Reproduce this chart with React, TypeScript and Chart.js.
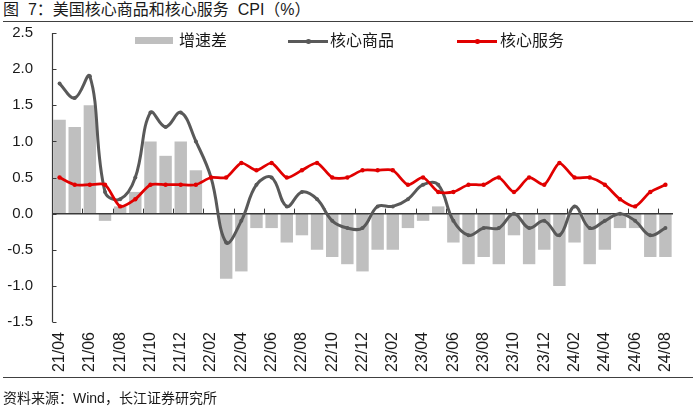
import React, { useEffect, useRef } from "react";
import { Chart, registerables } from "chart.js";

Chart.register(...registerables);

const months: string[] = [
  "21/04", "21/05", "21/06", "21/07", "21/08", "21/09", "21/10", "21/11", "21/12",
  "22/01", "22/02", "22/03", "22/04", "22/05", "22/06", "22/07", "22/08", "22/09", "22/10", "22/11", "22/12",
  "23/01", "23/02", "23/03", "23/04", "23/05", "23/06", "23/07", "23/08", "23/09", "23/10", "23/11", "23/12",
  "24/01", "24/02", "24/03", "24/04", "24/05", "24/06", "24/07", "24/08",
];

const spread: number[] = [
  1.3, 1.2, 1.5, -0.1, 0.1, 0.3, 1.0, 0.8, 1.0,
  0.6, 0.0, -0.9, -0.8, -0.2, -0.2, -0.4, -0.3, -0.5, -0.6, -0.7, -0.8,
  -0.5, -0.5, -0.2, -0.1, 0.1, -0.4, -0.7, -0.6, -0.7, -0.3, -0.7, -0.5,
  -1.0, -0.4, -0.7, -0.5, -0.2, -0.2, -0.6, -0.6,
];

const coreGoods: number[] = [
  1.8, 1.6, 1.9, 0.3, 0.2, 0.5, 1.4, 1.2, 1.4,
  1.0, 0.5, -0.4, -0.1, 0.4, 0.5, 0.1, 0.3, 0.2, -0.1, -0.2, -0.2,
  0.1, 0.1, 0.2, 0.4, 0.4, -0.1, -0.3, -0.2, -0.2, 0.0, -0.2, -0.1,
  -0.3, 0.1, -0.2, -0.1, 0.0, -0.1, -0.3, -0.2,
];

const coreServices: number[] = [
  0.5, 0.4, 0.4, 0.4, 0.1, 0.2, 0.4, 0.4, 0.4,
  0.4, 0.5, 0.5, 0.7, 0.6, 0.7, 0.5, 0.6, 0.7, 0.5, 0.5, 0.6,
  0.6, 0.6, 0.4, 0.5, 0.3, 0.3, 0.4, 0.4, 0.5, 0.3, 0.5, 0.4,
  0.7, 0.5, 0.5, 0.4, 0.2, 0.1, 0.3, 0.4,
];

const seriesNames = ["增速差", "核心商品", "核心服务"];
const yMin = -1.5;
const yMax = 2.5;
const yStep = 0.5;

const BAR_COLOR = "#BFBFBF";
const GOODS_COLOR = "#595959";
const SERVICE_COLOR = "#E10000";
const AXIS_COLOR = "#3a3a3a";
const FONT = '"Liberation Sans", Arial, "Noto Sans CJK SC", sans-serif';

const axesPlugin = {
  id: "customAxes",
  afterDatasetDraw(chart: any, args: any) {
    if (args.index !== 0) return;
    const { ctx, chartArea, scales } = chart;
    const x = scales.x;
    const y = scales.y;
    const y0 = y.getPixelForValue(0);
    ctx.save();
    ctx.strokeStyle = AXIS_COLOR;
    ctx.lineWidth = 1.5;
    ctx.beginPath();
    ctx.moveTo(chartArea.left, y0);
    ctx.lineTo(chartArea.right, y0);
    ctx.stroke();
    ctx.lineWidth = 1;
    ctx.beginPath();
    for (let i = 2; i < months.length; i += 2) {
      const px = Math.round((x.getPixelForValue(i - 1) + x.getPixelForValue(i)) / 2) + 0.5;
      ctx.moveTo(px, y0);
      ctx.lineTo(px, y0 - 5);
    }
    ctx.stroke();
    const left = Math.round(chartArea.left) + 0.5;
    ctx.lineWidth = 1.2;
    ctx.beginPath();
    ctx.moveTo(left, y.getPixelForValue(yMax));
    ctx.lineTo(left, y.getPixelForValue(yMin));
    ctx.stroke();
    ctx.lineWidth = 1;
    ctx.beginPath();
    for (const t of y.ticks) {
      const py = Math.round(y.getPixelForValue(t.value)) + 0.5;
      ctx.moveTo(left, py);
      ctx.lineTo(left + 4, py);
    }
    ctx.stroke();
    ctx.restore();
  },
};

export default function App() {
  const canvasRef = useRef<HTMLCanvasElement | null>(null);

  useEffect(() => {
    const canvas = canvasRef.current;
    if (!canvas) return;
    const chart = new Chart(canvas, {
      type: "bar",
      data: {
        labels: months,
        datasets: [
          {
            type: "bar",
            label: seriesNames[0],
            data: spread,
            backgroundColor: BAR_COLOR,
            borderWidth: 0,
            barPercentage: 0.82,
            categoryPercentage: 1,
            order: 3,
          } as any,
          {
            type: "line",
            label: seriesNames[1],
            data: coreGoods,
            borderColor: GOODS_COLOR,
            backgroundColor: GOODS_COLOR,
            borderWidth: 3,
            tension: 0.4,
            pointRadius: 2,
            pointHoverRadius: 2,
            pointBorderWidth: 0,
            pointBackgroundColor: GOODS_COLOR,
            order: 2,
          } as any,
          {
            type: "line",
            label: seriesNames[2],
            data: coreServices,
            borderColor: SERVICE_COLOR,
            backgroundColor: SERVICE_COLOR,
            borderWidth: 2.75,
            tension: 0.25,
            pointRadius: 2.2,
            pointHoverRadius: 2.2,
            pointBorderWidth: 0,
            pointBackgroundColor: SERVICE_COLOR,
            order: 1,
          } as any,
        ],
      },
      options: {
        responsive: false,
        animation: false,
        devicePixelRatio: 1,
        layout: { padding: { left: 0, right: 27, top: 33, bottom: 0 } },
        plugins: {
          legend: { display: false },
          tooltip: { enabled: false },
          title: { display: false },
        },
        scales: {
          x: {
            type: "category",
            offset: true,
            grid: { display: false, drawTicks: false },
            border: { display: false },
            ticks: {
              autoSkip: false,
              maxRotation: 90,
              minRotation: 90,
              padding: 10,
              color: "#1a1a1a",
              font: { family: FONT, size: 16 },
              callback: (_v: any, i: number) => (i % 2 === 0 ? months[i] : ""),
            },
            afterFit: (scale: any) => {
              scale.height = 87;
            },
          },
          y: {
            min: yMin,
            max: yMax,
            grid: { display: false, drawTicks: false },
            border: { display: false },
            ticks: {
              stepSize: yStep,
              padding: 19,
              color: "#1a1a1a",
              font: { family: FONT, size: 15 },
              callback: (v: any) => Number(v).toFixed(1),
            },
            afterFit: (scale: any) => {
              scale.width = 52;
            },
          },
        },
      },
      plugins: [axesPlugin],
    });
    return () => chart.destroy();
  }, []);

  const textBase: React.CSSProperties = {
    position: "absolute",
    fontFamily: FONT,
    color: "#1a1a1a",
    whiteSpace: "pre",
    lineHeight: "1",
  };

  return (
    <div
      style={{
        position: "fixed",
        left: 0,
        top: 0,
        width: 700,
        height: 409,
        background: "#fff",
        overflow: "hidden",
      }}
    >
      <div style={{ ...textBase, left: 3, top: 2, fontSize: 16 }}>
        {"图  7：美国核心商品和核心服务  CPI（%）"}
      </div>
      <div style={{ position: "absolute", left: 3, top: 21, width: 690, height: 1, background: "#404040" }} />
      <canvas
        ref={canvasRef}
        width={700}
        height={409}
        style={{ position: "absolute", left: 0, top: 0, width: 700, height: 409 }}
      />
      <div style={{ position: "absolute", left: 135, top: 37, width: 38, height: 7, background: BAR_COLOR }} />
      <div style={{ ...textBase, left: 179, top: 33, fontSize: 16 }}>{seriesNames[0]}</div>
      <div style={{ position: "absolute", left: 288, top: 40, width: 40, height: 2.5, background: GOODS_COLOR }} />
      <div style={{ position: "absolute", left: 306, top: 39, width: 4.5, height: 4.5, borderRadius: "50%", background: GOODS_COLOR }} />
      <div style={{ ...textBase, left: 330, top: 33, fontSize: 16 }}>{seriesNames[1]}</div>
      <div style={{ position: "absolute", left: 457, top: 40, width: 40, height: 2.5, background: SERVICE_COLOR }} />
      <div style={{ position: "absolute", left: 475, top: 39, width: 4.5, height: 4.5, borderRadius: "50%", background: SERVICE_COLOR }} />
      <div style={{ ...textBase, left: 500, top: 33, fontSize: 16 }}>{seriesNames[2]}</div>
      <div style={{ position: "absolute", left: 3, top: 377, width: 690, height: 1, background: "#404040" }} />
      <div style={{ ...textBase, left: 3, top: 391, fontSize: 14 }}>资料来源：Wind，长江证券研究所</div>
    </div>
  );
}
